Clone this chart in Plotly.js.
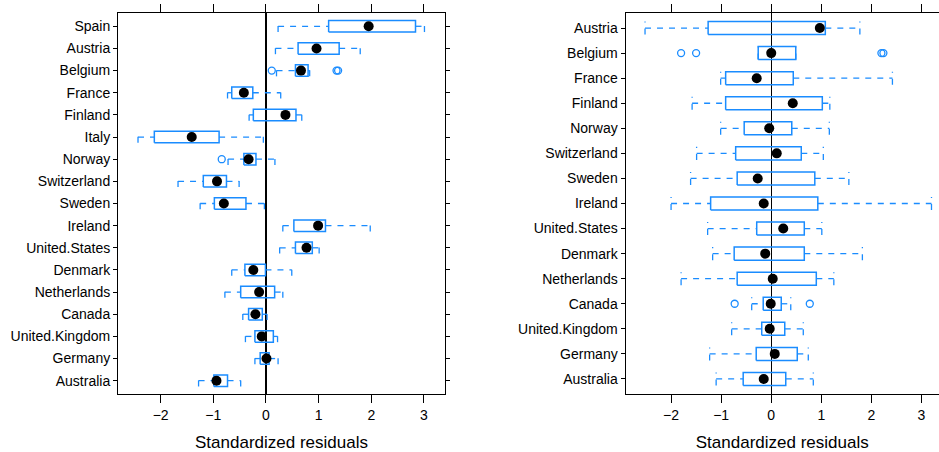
<!DOCTYPE html>
<html>
<head>
<meta charset="utf-8">
<script src="https://cdn.plot.ly/plotly-3.0.1.min.js"></script>
<style>html,body{margin:0;padding:0;background:#fff;}#chart{width:939px;height:452px;}</style>
</head>
<body>
<div id="chart"></div>
<script>
// ---- Left panel data (top to bottom) ----
var leftCountries = ["Spain","Austria","Belgium","France","Finland","Italy","Norway","Switzerland","Sweden","Ireland","United.States","Denmark","Netherlands","Canada","United.Kingdom","Germany","Australia"];
var leftLow  = [0.23, 0.18, 0.20, -0.73, -0.32, -2.43, -0.72, -1.67, -1.25, 0.32, 0.26, -0.65, -0.78, -0.44, -0.39, -0.21, -1.28];
var leftQ1   = [1.19, 0.61, 0.56, -0.65, -0.24, -2.12, -0.42, -1.19, -0.98, 0.53, 0.56, -0.40, -0.48, -0.33, -0.21, -0.11, -0.99];
var leftMed  = [1.95, 0.96, 0.665, -0.42, 0.37, -1.41, -0.33, -0.93, -0.80, 0.99, 0.77, -0.24, -0.13, -0.20, -0.08, 0.01, -0.94];
var leftQ3   = [2.84, 1.39, 0.80, -0.25, 0.57, -0.89, -0.19, -0.75, -0.38, 1.13, 0.88, -0.01, 0.165, -0.07, 0.14, 0.06, -0.73];
var leftHigh = [3.01, 1.79, 0.83, 0.28, 0.68, -0.05, 0.17, -0.51, -0.03, 1.98, 1.01, 0.49, 0.32, 0.02, 0.22, 0.23, -0.48];
var leftOutCountry = ["Belgium","Belgium","Belgium","Norway"];
var leftOutValue   = [0.11, 1.34, 1.37, -0.84];

// ---- Right panel data (top to bottom) ----
var rightCountries = ["Austria","Belgium","France","Finland","Norway","Switzerland","Sweden","Ireland","United.States","Denmark","Netherlands","Canada","United.Kingdom","Germany","Australia"];
var rightLow  = [-2.52, -0.26, -1.01, -1.58, -1.01, -1.49, -1.61, -2.00, -1.27, -1.17, -1.80, -0.39, -0.79, -1.23, -1.10];
var rightQ1   = [-1.26, -0.26, -0.91, -0.91, -0.54, -0.71, -0.68, -1.21, -0.29, -0.74, -0.68, -0.16, -0.19, -0.30, -0.56];
var rightMed  = [0.97, 0.00, -0.29, 0.43, -0.04, 0.11, -0.27, -0.15, 0.24, -0.12, 0.03, -0.01, -0.03, 0.07, -0.15];
var rightQ3   = [1.08, 0.49, 0.44, 1.02, 0.41, 0.60, 0.87, 0.93, 0.66, 0.66, 0.90, 0.20, 0.27, 0.52, 0.29];
var rightHigh = [1.77, 0.49, 2.42, 1.17, 1.16, 1.04, 1.55, 3.20, 1.01, 1.82, 1.25, 0.39, 0.64, 0.74, 0.84];
var rightOutCountry = ["Belgium","Belgium","Belgium","Belgium","Canada","Canada"];
var rightOutValue   = [-1.80, -1.50, 2.20, 2.24, -0.73, 0.77];

var xTicks = [-2, -1, 0, 1, 2, 3];
var xTitle = "Standardized residuals";

var BLUE = "#1a8cff";
var HALF = 0.26;

function panelTraces(countries, low, q1, med, q3, high, outC, outV, xa, ya) {
  var n = countries.length;
  var pos = countries.map(function(c, i){ return n - 1 - i; });
  var wx = [], wy = [], bx = [], by = [];
  for (var i = 0; i < n; i++) {
    var y = pos[i];
    wx.push(low[i], q1[i], null, q3[i], high[i], null);
    wy.push(y, y, null, y, y, null);
    wx.push(low[i], low[i], null, high[i], high[i], null);
    wy.push(y - HALF, y + HALF, null, y - HALF, y + HALF, null);
    bx.push(q1[i], q3[i], q3[i], q1[i], q1[i], null);
    by.push(y - HALF, y - HALF, y + HALF, y + HALF, y - HALF, null);
  }
  var oy = outC.map(function(c){ return n - 1 - countries.indexOf(c); });
  return [
    {type:"scatter", mode:"lines", x:wx, y:wy, xaxis:xa, yaxis:ya, hoverinfo:"skip",
     line:{color:BLUE, width:1.3, dash:"6px,6px"}, connectgaps:false, showlegend:false},
    {type:"scatter", mode:"lines", x:bx, y:by, xaxis:xa, yaxis:ya, hoverinfo:"skip",
     line:{color:BLUE, width:1.5}, connectgaps:false, showlegend:false},
    {type:"scatter", mode:"markers", x:outV, y:oy, xaxis:xa, yaxis:ya,
     marker:{symbol:"circle-open", size:7, color:BLUE, line:{width:1.3, color:BLUE}}, showlegend:false},
    {type:"scatter", mode:"markers", x:med, y:pos, xaxis:xa, yaxis:ya,
     marker:{symbol:"circle", size:10, color:"#000"}, showlegend:false}
  ];
}

var data = [].concat(
  panelTraces(leftCountries, leftLow, leftQ1, leftMed, leftQ3, leftHigh, leftOutCountry, leftOutValue, "x", "y"),
  panelTraces(rightCountries, rightLow, rightQ1, rightMed, rightQ3, rightHigh, rightOutCountry, rightOutValue, "x2", "y2")
);

var font = {family:"Liberation Sans, Arial, Helvetica, sans-serif", size:14, color:"#000"};

function xAxis(domain, range, anchor) {
  return {
    domain: domain, range: range, anchor: anchor,
    tickvals: xTicks, ticktext: xTicks.map(function(v){ return v < 0 ? "\u2212" + Math.abs(v) : String(v); }),
    ticks: "outside", ticklen: 8, tickwidth: 1, tickcolor: "#000",
    showline: true, linecolor: "#000", linewidth: 1, mirror: "allticks",
    showgrid: false, zeroline: true, zerolinecolor: "#000", zerolinewidth: 1.2,
    tickfont: {family: font.family, size: 14, color: "#000"},
    title: {text: xTitle, font: {family: font.family, size: 17, color: "#000"}, standoff: 14},
    fixedrange: true
  };
}
function yAxis(countries, anchor, mirror) {
  var n = countries.length;
  var vals = countries.map(function(c, i){ return n - 1 - i; });
  return {
    domain: [0, 1], range: [-0.6, n - 0.4], anchor: anchor,
    tickvals: vals, ticktext: countries,
    ticks: "outside", ticklen: 4, tickwidth: 1, tickcolor: "#000",
    showline: true, linecolor: "#000", linewidth: 1, mirror: mirror,
    showgrid: false, zeroline: false,
    tickfont: {family: font.family, size: 14, color: "#000"},
    fixedrange: true
  };
}

var layout = {
  width: 939, height: 452,
  margin: {l: 0, r: 0, t: 13, b: 58, pad: 0},
  paper_bgcolor: "#fff", plot_bgcolor: "#fff",
  font: font,
  showlegend: false,
  xaxis: xAxis([118/939, 445/939], [-2.81, 3.40], "y"),
  yaxis: yAxis(leftCountries, "x", "allticks"),
  xaxis2: xAxis([625.5/939, 1], [-2.91, 3.35], "y2"),
  yaxis2: yAxis(rightCountries, "x2", false)
};

Plotly.newPlot("chart", data, layout, {displayModeBar: false, staticPlot: true});
</script>
</body>
</html>
